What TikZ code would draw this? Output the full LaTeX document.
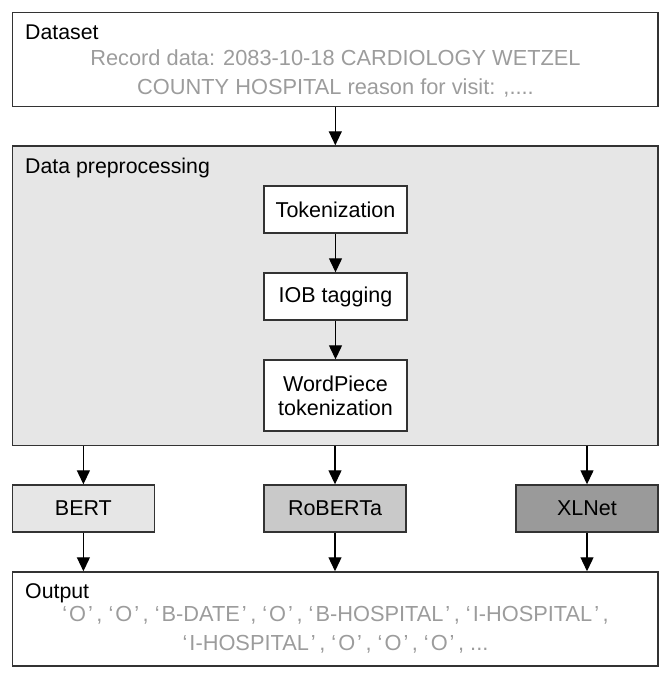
\documentclass[tikz,border=0pt]{standalone}
\usepackage{fontspec}
\setmainfont{Liberation Sans}
\usetikzlibrary{arrows.meta}
\usetikzlibrary{positioning}

\definecolor{edgegray}{HTML}{333333}
\definecolor{notegray}{HTML}{9C9C9C}
\definecolor{fillone}{HTML}{E6E6E6}
\definecolor{filltwo}{HTML}{C9C9C9}
\definecolor{fillthree}{HTML}{9A9A9A}

% quoted tag, as printed in the output box
\newcommand\qtag[1]{‘\kern2pt#1\kern2pt’\kern3.5pt}

\tikzset{
  panel/.style={draw=edgegray,line width=1.5pt,minimum width=645.5pt,inner sep=0pt},
  stage/.style={draw=edgegray,line width=1.4pt,fill=white,minimum width=143pt,align=center,
    font=\fontsize{21.5}{24}\selectfont,inner sep=0pt},
  model/.style={draw=edgegray,line width=1.4pt,minimum width=142pt,minimum height=47pt,
    font=\fontsize{21.5}{24}\selectfont,inner sep=0pt},
  title/.style={anchor=base west,font=\fontsize{21.3}{24}\selectfont,inner sep=0pt},
  note/.style={text=notegray,align=center,font=\fontsize{21.8}{29}\selectfont,inner sep=0pt},
  flow/.style={-{Triangle[length=14pt,width=13pt]},line width=1.3pt}
}

\begin{document}
\begin{tikzpicture}[x=1pt,y=-1pt]
  \useasboundingbox (0,0) rectangle (671,679);

  % outer boxes
  \node[panel,minimum height=94pt] (dataset) at (335.3,59.7) {};
  \node[panel,fill=fillone,minimum height=299.5pt] (prep) at (335.3,295.8) {};
  \node[panel,minimum height=94pt] (output) at (335.3,619) {};

  \node[title] (datasettitle) at (25,40) {Dataset};
  \node[note] (record) at (335.5,73) {Record data: 2083-10-18 CARDIOLOGY WETZEL\\COUNTY HOSPITAL reason for visit: ,....};
  \node[title] (preptitle) at (25,173) {Data preprocessing};
  \node[title] (outputtitle) at (25,598) {Output};
  \node[note] (labels) at (335.5,630) {\qtag{O}, \qtag{O}, \qtag{B-DATE}, \qtag{O}, \qtag{B-HOSPITAL}, \qtag{I-HOSPITAL},\\\qtag{I-HOSPITAL}, \qtag{O}, \qtag{O}, \qtag{O}, ...};

  % preprocessing steps
  \node[stage,minimum height=47pt] (tok) at (335.5,209.5) {Tokenization};
  \node[stage,minimum height=47pt] (iob) at (335.5,296.5) {IOB tagging};
  \node[stage,minimum height=71pt] (wp) at (335.5,395.5) {WordPiece\\tokenization};

  % models
  \node[model,fill=fillone] (bert) at (83.4,508.5) {BERT};
  \node[model,fill=filltwo] (roberta) at (335,508.5) {RoBERTa};
  \node[model,fill=fillthree] (xlnet) at (587,508.5) {XLNet};

  \path[flow]
    (dataset) edge (prep)
    (tok) edge (iob)
    (iob) edge (wp)
    (bert |- prep.south) edge (bert)
    (roberta |- prep.south) edge (roberta)
    (xlnet |- prep.south) edge (xlnet)
    (bert) edge (bert |- output.north)
    (roberta) edge (roberta |- output.north)
    (xlnet) edge (xlnet |- output.north);
\end{tikzpicture}
\end{document}
